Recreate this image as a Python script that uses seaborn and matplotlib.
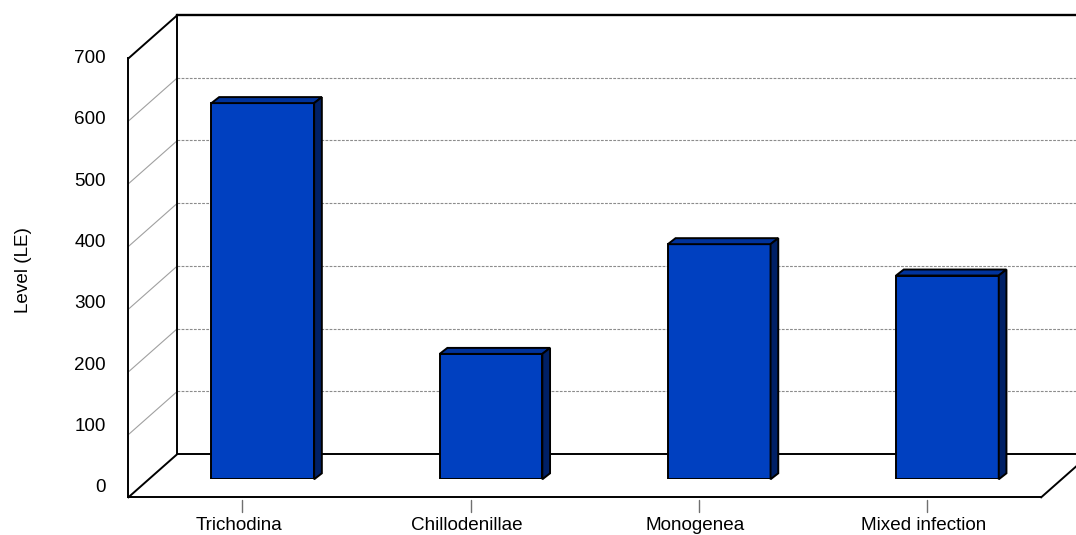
import numpy as np
import pandas as pd
import matplotlib
matplotlib.use("Agg")
import matplotlib.pyplot as plt
import seaborn as sns
from matplotlib.patches import Polygon

# ---- data ----
categories = ["Trichodina", "Chillodenillae", "Monogenea", "Mixed infection"]
values = [600, 200, 375, 325]
yticks = [0, 100, 200, 300, 400, 500, 600, 700]
ylabel = "Level (LE)"

# ---- style ----
FRONT = "#0040C0"
TOP = "#00339C"
SIDE = "#002066"
GRID = "#8C8C8C"
FS = 13.6

sns.set_theme(style="white")
plt.rcParams['font.family'] = ['Liberation Sans', 'DejaVu Sans']

W, H = 1076, 535
fig = plt.figure(figsize=(W / 100, H / 100), dpi=100)
fig.patch.set_facecolor("white")

# plane of the bar fronts (pixels)
left_px, right_px = 148.7, 1061.5
base_px, top_px = 479.3, 479.3 - 438.9
ax = fig.add_axes([left_px / W, 1 - base_px / H,
                   (right_px - left_px) / W, (base_px - top_px) / H])

df = pd.DataFrame({"category": categories, "value": values})
sns.barplot(data=df, x="category", y="value", color=FRONT, saturation=1,
            width=0.45, edgecolor="black", linewidth=1.4, ax=ax, zorder=3)
ax.set_xlim(-0.5, len(categories) - 0.5)
ax.set_ylim(yticks[0], yticks[-1])
ax.axis("off")

p0 = ax.transData.transform((0, 0))
p1 = ax.transData.transform((1, 100))
sx = p1[0] - p0[0]
sy = (p1[1] - p0[1]) / 100.0


def off(x, y, o):
    return (x + o[0] / sx, y + o[1] / sy)


FRONT_OFF = (-20.3, -18.0)
BACK_OFF = (28.7, 25.3)
BAR_DEPTH = (7.7, 6.0)

x_lo, x_hi = ax.get_xlim()
y_lo, y_hi = ax.get_ylim()


def line(a, b, **kw):
    ax.plot([a[0], b[0]], [a[1], b[1]], clip_on=False, solid_capstyle="projecting", **kw)


# gridlines: back wall (dashed) and left wall (solid diagonals)
for v in yticks[1:-1]:
    line(off(x_lo, v, BACK_OFF), off(x_hi, v, BACK_OFF), color=GRID, lw=0.8,
         ls=(0, (2.5, 1.2)), zorder=1)
    line(off(x_lo, v, FRONT_OFF), off(x_lo, v, BACK_OFF), color="#A0A0A0", lw=0.8, zorder=1)

# box frame
K = dict(color="black", lw=1.4, zorder=2)
line(off(x_lo, y_lo, FRONT_OFF), off(x_lo, y_hi, FRONT_OFF), **K)
line(off(x_lo, y_hi, FRONT_OFF), off(x_lo, y_hi, BACK_OFF), **K)
line(off(x_lo, y_lo, BACK_OFF), off(x_lo, y_hi, BACK_OFF), **K)
line(off(x_lo, y_hi, BACK_OFF), off(x_hi, y_hi, BACK_OFF), color="black", lw=1.7, zorder=2)
line(off(x_lo, y_lo, FRONT_OFF), off(x_hi, y_lo, FRONT_OFF), **K)
line(off(x_lo, y_lo, FRONT_OFF), off(x_lo, y_lo, BACK_OFF), **K)
line(off(x_lo, y_lo, BACK_OFF), off(x_hi, y_lo, BACK_OFF), **K)
line(off(x_hi, y_lo, FRONT_OFF), off(x_hi, y_lo, BACK_OFF), **K)

# 3D faces of bars
for p in list(ax.patches):
    x0, w, y0, h = p.get_x(), p.get_width(), p.get_y(), p.get_height()
    x1 = x0 + w
    yt = y0 + h
    topf = [(x0, yt), (x1, yt), off(x1, yt, BAR_DEPTH), off(x0, yt, BAR_DEPTH)]
    side = [(x1, y0), (x1, yt), off(x1, yt, BAR_DEPTH), off(x1, y0, BAR_DEPTH)]
    ax.add_patch(Polygon(topf, closed=True, facecolor=TOP, edgecolor="black",
                         lw=1.4, zorder=3, clip_on=False, joinstyle="miter"))
    ax.add_patch(Polygon(side, closed=True, facecolor=SIDE, edgecolor="black",
                         lw=1.4, zorder=3, clip_on=False, joinstyle="miter"))

# y tick labels on the front edge
SQUEEZE = 0.978
for v in yticks:
    vy = y_hi - (y_hi - v) * SQUEEZE
    xx, yy = off(x_lo, vy, (FRONT_OFF[0] - 22.4, FRONT_OFF[1]))
    ax.text(xx, yy, str(v), ha="right", va="center", fontsize=FS,
            color="black", clip_on=False)

# category ticks and labels on the front edge
for i, c in enumerate(categories):
    a = off(i, y_lo, (FRONT_OFF[0], FRONT_OFF[1] - 3))
    b = off(i, y_lo, (FRONT_OFF[0], FRONT_OFF[1] - 15))
    ax.plot([a[0], b[0]], [a[1], b[1]], color="#707070", lw=1.0, zorder=2,
            clip_on=False)
    tx, ty = off(i, y_lo, (FRONT_OFF[0] - 3.5, FRONT_OFF[1] - 33))
    ax.text(tx, ty, c, ha="center", va="baseline", fontsize=FS, color="black",
            clip_on=False)

fig.text(24 / W, 1 - 270 / H, ylabel, rotation=90, ha="center", va="center",
         fontsize=FS, color="black")

fig.savefig("out.png", dpi=100, facecolor="white")
